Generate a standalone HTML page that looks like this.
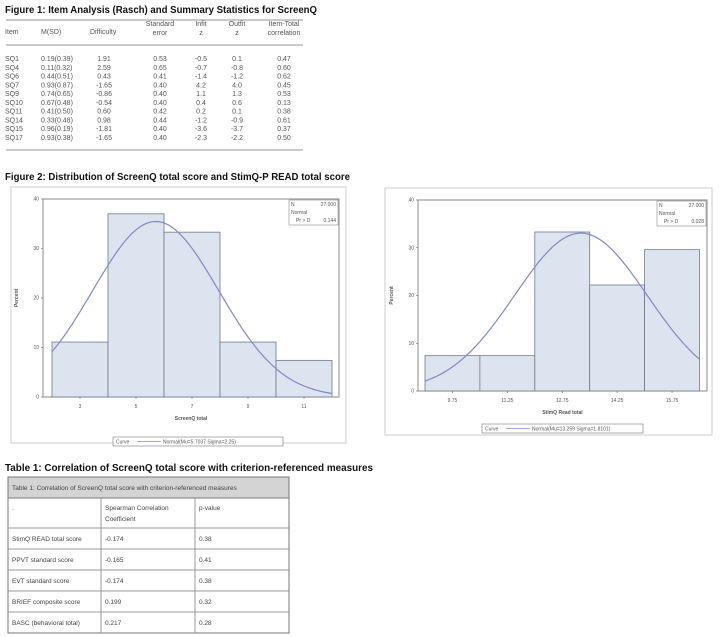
<!DOCTYPE html>
<html><head><meta charset="utf-8"><style>
html,body{margin:0;padding:0;background:#fff;width:720px;height:637px;overflow:hidden}
svg{display:block}
.t{font-family:"Liberation Sans",sans-serif;font-size:7px;fill:#555}
.h{font-family:"Liberation Sans",sans-serif;font-weight:bold;font-size:10.5px;fill:#111}
.s{font-family:"Liberation Sans",sans-serif;font-size:5px;fill:#555}
.tb{font-family:"Liberation Sans",sans-serif;font-size:6.5px;fill:#444}
</style></head><body>
<svg id="s" width="720" height="637" viewBox="0 0 720 637">
<text class="h" x="5" y="13" textLength="312" lengthAdjust="spacingAndGlyphs">Figure 1: Item Analysis (Rasch) and Summary Statistics for ScreenQ</text>
<line x1="6" y1="20" x2="303" y2="20" stroke="#aaa" stroke-width="1.2"/>
<line x1="6" y1="45" x2="303" y2="45" stroke="#aaa" stroke-width="1.2"/>
<line x1="6" y1="150" x2="303" y2="150" stroke="#aaa" stroke-width="1.2"/>
<g class="t">
<text x="5" y="34">Item</text><text x="41" y="34">M(SD)</text><text x="90" y="34">Difficulty</text>
<text x="160" y="26" text-anchor="middle">Standard</text><text x="160" y="35" text-anchor="middle">error</text>
<text x="201" y="26" text-anchor="middle">Infit</text><text x="201" y="35" text-anchor="middle">z</text>
<text x="237" y="26" text-anchor="middle">Outfit</text><text x="237" y="35" text-anchor="middle">z</text>
<text x="284" y="26" text-anchor="middle">Item-Total</text><text x="284" y="35" text-anchor="middle">correlation</text>
</g>
<g class="t" id="rows"></g>

<text class="h" x="5" y="180" textLength="345" lengthAdjust="spacingAndGlyphs">Figure 2: Distribution of ScreenQ total score and StimQ-P READ total score</text>

<rect x="11" y="187" width="335" height="256" fill="#fff" stroke="#ccc"/>
<rect x="385" y="188" width="327" height="247" fill="#fff" stroke="#ccc"/>
<g id="c1"></g><g id="c2"></g>

<text class="h" x="5" y="471" textLength="368" lengthAdjust="spacingAndGlyphs">Table 1: Correlation of ScreenQ total score with criterion-referenced measures</text>
<rect x="8" y="477" width="281" height="21" fill="#d4d4d4" stroke="#777"/>
<rect x="8" y="477" width="281" height="156" fill="none" stroke="#777"/>
<text class="tb" x="12" y="490" font-size="5.5">Table 1: Correlation of ScreenQ total score with criterion-referenced measures</text>
<g id="t1"></g>
</svg>
<script>
const NS="http://www.w3.org/2000/svg";
function el(p,n,a,txt){const e=document.createElementNS(NS,n);for(const k in a)e.setAttribute(k,a[k]);if(txt!==undefined)e.textContent=txt;p.appendChild(e);return e;}
const rows=[["SQ1","0.19(0.39)","1.91","0.53","-0.5","0.1","0.47"],["SQ4","0.11(0.32)","2.59","0.65","-0.7","-0.8","0.60"],["SQ6","0.44(0.51)","0.43","0.41","-1.4","-1.2","0.62"],["SQ7","0.93(0.87)","-1.65","0.40","4.2","4.0","0.45"],["SQ9","0.74(0.65)","-0.86","0.40","1.1","1.3","0.53"],["SQ10","0.67(0.48)","-0.54","0.40","0.4","0.6","0.13"],["SQ11","0.41(0.50)","0.60","0.42","0.2","0.1","0.38"],["SQ14","0.33(0.48)","0.98","0.44","-1.2","-0.9","0.61"],["SQ15","0.96(0.19)","-1.81","0.40","-3.6","-3.7","0.37"],["SQ17","0.93(0.38)","-1.65","0.40","-2.3","-2.2","0.50"]];
const R=document.getElementById("rows");
rows.forEach((r,i)=>{const y=61+i*8.78;
el(R,"text",{x:5,y},r[0]);el(R,"text",{x:41,y},r[1]);
el(R,"text",{x:104,y,"text-anchor":"middle"},r[2]);el(R,"text",{x:160,y,"text-anchor":"middle"},r[3]);
el(R,"text",{x:201,y,"text-anchor":"middle"},r[4]);el(R,"text",{x:237,y,"text-anchor":"middle"},r[5]);
el(R,"text",{x:284,y,"text-anchor":"middle"},r[6]);});
function chart(g,o){
 const sy=v=>o.y0-(o.y0-o.yt)*v/40, sx=v=>o.xl0+(v-o.v0)*o.k;
 el(g,"rect",{x:o.px1,y:o.yt,width:o.px2-o.px1,height:o.y0-o.yt,fill:"#fff",stroke:"#888","stroke-width":1});
 o.h.forEach((h,i)=>{const a=sx(o.v0+i*o.w),b=sx(o.v0+(i+1)*o.w);
  el(g,"rect",{x:a,y:sy(h),width:b-a,height:o.y0-sy(h),fill:"#dce4f0",stroke:"#707a88","stroke-width":0.8});});
 let d="";const pk=o.w*100/(o.sd*Math.sqrt(2*Math.PI));
 for(let i=0;i<=100;i++){const v=o.v0+(o.h.length*o.w)*i/100;const p=pk*Math.exp(-0.5*((v-o.m)/o.sd)**2);d+=(i?"L":"M")+sx(v).toFixed(1)+" "+sy(p).toFixed(1);}
 el(g,"path",{d,fill:"none",stroke:"#8088c8","stroke-width":1.2});
 [0,10,20,30,40].forEach(t=>{el(g,"line",{x1:o.px1-2,x2:o.px1,y1:sy(t),y2:sy(t),stroke:"#666","stroke-width":0.6});el(g,"text",{class:"s",x:o.px1-4,y:sy(t)+1.7,"text-anchor":"end"},t);});
 o.ticks.forEach(t=>{el(g,"line",{x1:sx(t.v),x2:sx(t.v),y1:o.y0,y2:o.y0+2,stroke:"#666","stroke-width":0.6});el(g,"text",{class:"s",x:sx(t.v),y:o.y0+11,"text-anchor":"middle"},t.l);});
 const cx=(o.px1+o.px2)/2;
 el(g,"text",{class:"s",x:cx,y:o.y0+23,"text-anchor":"middle","font-weight":"bold","font-size":"5.5"},o.xl);
 el(g,"text",{class:"s",x:o.px1-25,y:(o.y0+o.yt)/2,"text-anchor":"middle","font-weight":"bold","font-size":"5.5",transform:`rotate(-90 ${o.px1-25} ${(o.y0+o.yt)/2})`},"Percent");
 el(g,"rect",{x:o.lx,y:o.ly,width:o.lw,height:9,fill:"#fff",stroke:"#777","stroke-width":0.6});
 el(g,"text",{class:"s",x:o.lx+3,y:o.ly+6.5,fill:"#333"},"Curve");
 el(g,"line",{x1:o.lx+24,x2:o.lx+48,y1:o.ly+4.5,y2:o.ly+4.5,stroke:"#8088c8","stroke-width":0.8});
 el(g,"text",{class:"s",x:o.lx+50,y:o.ly+6.5},o.lt);
 el(g,"rect",{x:o.bx,y:o.yt+1,width:o.px2-o.bx-1,height:25,fill:"#fff",stroke:"#888","stroke-width":0.6});
 el(g,"text",{class:"s",x:o.bx+2,y:o.yt+7},"N");el(g,"text",{class:"s",x:o.px2-3,y:o.yt+7,"text-anchor":"end"},"27.000");
 el(g,"text",{class:"s",x:o.bx+2,y:o.yt+15},"Normal");
 el(g,"text",{class:"s",x:o.bx+7,y:o.yt+23},"Pr > D");el(g,"text",{class:"s",x:o.px2-3,y:o.yt+23,"text-anchor":"end"},o.p);
}
chart(document.getElementById("c1"),{px1:43,px2:339,yt:199,y0:397,xl0:52,v0:2,w:2,k:28,h:[11.1,37,33.3,11.1,7.4],m:5.7037,sd:2.25,
 ticks:[3,5,7,9,11].map(v=>({v,l:v})),xl:"ScreenQ total",lx:113,ly:437,lw:170,lt:"Normal(Mu=5.7037 Sigma=2.25)",bx:289,p:"0.144"});
chart(document.getElementById("c2"),{px1:418,px2:707,yt:200,y0:391,xl0:425,v0:9,w:1.5,k:36.6,h:[7.4,7.4,33.3,22.2,29.6],m:13.259,sd:1.8101,
 ticks:[9.75,11.25,12.75,14.25,15.75].map(v=>({v,l:v})),xl:"StimQ Read total",lx:482,ly:424,lw:161,lt:"Normal(Mu=13.259 Sigma=1.8101)",bx:657,p:"0.028"});
const T=document.getElementById("t1");
[528,549,570,591,612].forEach(y=>el(T,"line",{x1:8,x2:289,y1:y,y2:y,stroke:"#999","stroke-width":1}));
[101,195].forEach(x=>el(T,"line",{x1:x,x2:x,y1:498,y2:633,stroke:"#999","stroke-width":1}));
el(T,"text",{class:"tb",x:12,y:510},".");
el(T,"text",{class:"tb",x:105,y:510},"Spearman Correlation");el(T,"text",{class:"tb",x:105,y:521},"Coefficient");
el(T,"text",{class:"tb",x:199,y:510},"p-value");
[["StimQ READ total score","-0.174","0.38"],["PPVT standard score","-0.165","0.41"],["EVT standard score","-0.174","0.38"],["BRIEF composite score","0.199","0.32"],["BASC (behavioral total)","0.217","0.28"]].forEach((r,i)=>{const y=541+i*21;
el(T,"text",{class:"tb",x:12,y},r[0]);el(T,"text",{class:"tb",x:105,y},r[1]);el(T,"text",{class:"tb",x:199,y},r[2]);});
</script>
</body></html>
